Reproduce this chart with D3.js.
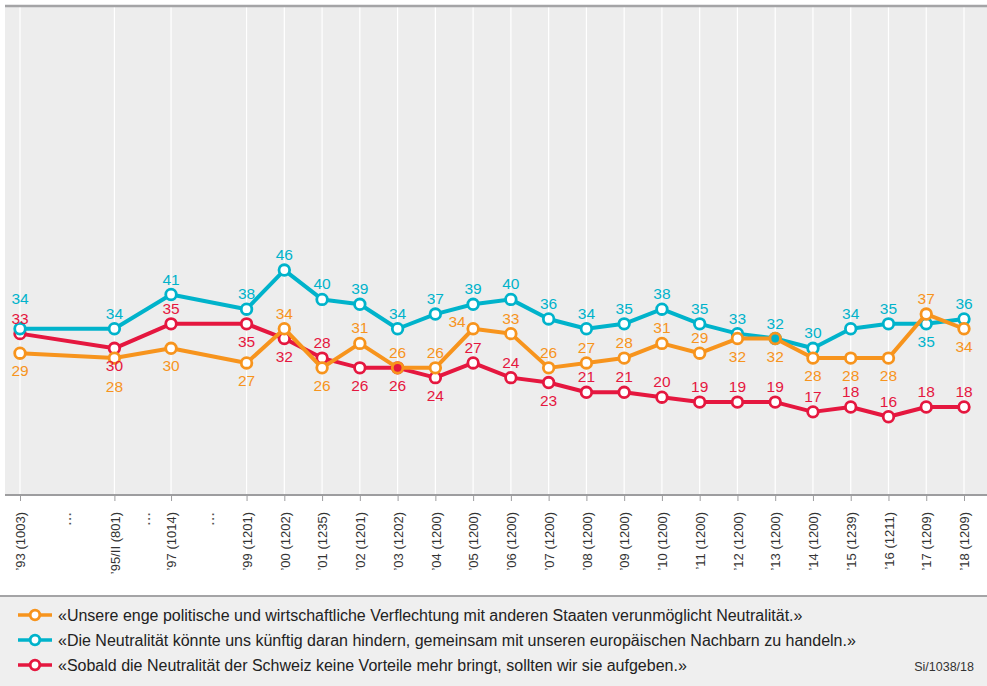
<!DOCTYPE html>
<html>
<head>
<meta charset="utf-8">
<script src="https://cdn.jsdelivr.net/npm/d3@7"></script>
<style>
  body { margin: 0; background: #fff; }
  text { font-family: "Liberation Sans", Arial, Helvetica, sans-serif; }
</style>
</head>
<body>
<svg id="chart"></svg>
<script>
// survey waves (year, second half of 1995 = 1995.5) and sample sizes
const years = [1993, 1995.5, 1997, 1999, 2000, 2001, 2002, 2003, 2004, 2005, 2006, 2007,
  2008, 2009, 2010, 2011, 2012, 2013, 2014, 2015, 2016, 2017, 2018];
const tickLabels = ["’93 (1003)", "’95/II (801)", "’97 (1014)", "’99 (1201)", "’00 (1202)",
  "’01 (1235)", "’02 (1201)", "’03 (1202)", "’04 (1200)", "’05 (1200)", "’06 (1200)",
  "’07 (1200)", "’08 (1200)", "’09 (1200)", "’10 (1200)", "’11 (1200)", "’12 (1200)",
  "’13 (1200)", "’14 (1200)", "’15 (1239)", "’16 (1211)", "’17 (1209)", "’18 (1209)"];
// gaps in the series, marked with dots on the axis
const gapYears = [1994.3, 1996.4, 1998.1];

const verflechtung = [29, 28, 30, 27, 34, 26, 31, 26, 26, 34, 33, 26, 27, 28, 31, 29, 32, 32, 28, 28, 28, 37, 34];
const nachbarn = [34, 34, 41, 38, 46, 40, 39, 34, 37, 39, 40, 36, 34, 35, 38, 35, 33, 32, 30, 34, 35, 35, 36];
const vorteile = [33, 30, 35, 35, 32, 28, 26, 26, 24, 27, 24, 23, 21, 21, 20, 19, 19, 19, 17, 18, 16, 18, 18];

// where each value label sits: a = above, b = below, a2/b2 = further out, l = above left
const verflechtungPos = ["b","b2","b","b","a","b","a","a","a","l","a","a","a","a","a","a","b","b","b","b","b","a","b"];
const nachbarnPos = ["a2","a","a","a","a","a","a","a","a","a","a","a","a","a","a","a","a","a","a","a","a","b","a"];
const vorteilePos = ["a","b","a","b","b","a","b","b","b","a","a","b","a","a","a","a","a","a","a","a","a","a","a"];

const legendTexts = [
  "«Unsere enge politische und wirtschaftliche Verflechtung mit anderen Staaten verunmöglicht Neutralität.»",
  "«Die Neutralität könnte uns künftig daran hindern, gemeinsam mit unseren europäischen Nachbarn zu handeln.»",
  "«Sobald die Neutralität der Schweiz keine Vorteile mehr bringt, sollten wir sie aufgeben.»"
];
const source = "Si/1038/18";

const orange = "#f7941d", cyan = "#00b3cb", red = "#e5173f";

const series = [
  { values: vorteile, pos: vorteilePos, color: red },
  { values: nachbarn, pos: nachbarnPos, color: cyan },
  { values: verflechtung, pos: verflechtungPos, color: orange }
];
const legendOrder = [
  { text: legendTexts[0], color: orange },
  { text: legendTexts[1], color: cyan },
  { text: legendTexts[2], color: red }
];

const W = 987, H = 686;
const plot = { left: 5, right: 987, top: 6, bottom: 495 };

const svg = d3.select("#chart").attr("width", W).attr("height", H);

const x = d3.scaleLinear().domain(d3.extent(years)).range([20, 964]);
const y = d3.scaleLinear().domain([0, 100]).range([plot.bottom, plot.top]);

// plot background
svg.append("rect")
  .attr("x", plot.left).attr("y", plot.top)
  .attr("width", plot.right - plot.left).attr("height", plot.bottom - plot.top)
  .attr("fill", "#ededed");

// vertical grid
svg.append("g")
  .selectAll("line")
  .data(years)
  .join("line")
  .attr("x1", d => x(d)).attr("x2", d => x(d))
  .attr("y1", plot.top).attr("y2", plot.bottom)
  .attr("stroke", "#fff").attr("stroke-width", 1.2);

// top border
svg.append("line")
  .attr("x1", plot.left).attr("x2", plot.right)
  .attr("y1", plot.top).attr("y2", plot.top)
  .attr("stroke", "#a4a4a6").attr("stroke-width", 2.5);

// x axis
const xAxis = svg.append("g")
  .attr("transform", "translate(0," + plot.bottom + ")")
  .call(d3.axisBottom(x).tickValues(years).tickSize(6).tickFormat((d, i) => tickLabels[i]));
xAxis.select(".domain").remove();
xAxis.append("line")
  .attr("x1", plot.left).attr("x2", plot.right)
  .attr("stroke", "#9d9d9f").attr("stroke-width", 2);
xAxis.selectAll(".tick line").attr("stroke", "#9d9d9f").attr("y1", 1);
xAxis.selectAll(".tick text")
  .attr("transform", "rotate(-90)")
  .attr("text-anchor", "end")
  .attr("x", -17).attr("y", 0).attr("dy", "0.36em")
  .attr("fill", "#333")
  .style("font-size", "13px")
  .style("font-family", "'Liberation Sans', Arial, sans-serif");

svg.append("g")
  .selectAll("text")
  .data(gapYears)
  .join("text")
  .attr("transform", d => "translate(" + x(d) + "," + (plot.bottom + 24) + ") rotate(-90)")
  .attr("dy", "0.1em")
  .attr("text-anchor", "middle")
  .attr("fill", "#555")
  .style("font-size", "17px")
  .text("...");

// lines and points
const line = d3.line().x((d, i) => x(years[i])).y(d => y(d));
const offsets = {
  a: [0, -10], a2: [0, -25], b: [0, 23], b2: [0, 34], l: [-16, -2]
};

series.forEach((s, si) => {
  const g = svg.append("g");
  g.append("path")
    .datum(s.values)
    .attr("fill", "none")
    .attr("stroke", s.color)
    .attr("stroke-width", 4)
    .attr("stroke-linejoin", "round")
    .attr("d", line);

  g.selectAll("circle")
    .data(s.values)
    .join("circle")
    .attr("cx", (d, i) => x(years[i]))
    .attr("cy", d => y(d))
    .attr("r", 5.3)
    .attr("stroke", s.color)
    .attr("stroke-width", 2.8)
    .attr("fill", (d, i) => {
      // a point lying exactly on an earlier series shows that series' colour inside
      const under = series.slice(0, si).find(o => o.values[i] === d);
      return under ? under.color : "#fff";
    });
});

// value labels on top
series.forEach(s => {
  svg.append("g")
    .selectAll("text")
    .data(s.values)
    .join("text")
    .attr("x", (d, i) => x(years[i]) + offsets[s.pos[i]][0])
    .attr("y", (d, i) => y(d) + offsets[s.pos[i]][1])
    .attr("text-anchor", "middle")
    .attr("fill", s.color)
    .style("font-size", "15.5px")
    .text(d => d);
});

// legend
const legendTop = 596;
svg.append("rect")
  .attr("x", 0).attr("y", legendTop)
  .attr("width", W).attr("height", H - legendTop)
  .attr("fill", "#efefef");
svg.append("line")
  .attr("x1", 0).attr("x2", W)
  .attr("y1", legendTop).attr("y2", legendTop)
  .attr("stroke", "#a4a4a6").attr("stroke-width", 2);

const legend = svg.append("g")
  .selectAll("g")
  .data(legendOrder)
  .join("g")
  .attr("transform", (d, i) => "translate(0," + (615 + i * 25) + ")");
legend.append("line")
  .attr("x1", 18).attr("x2", 52)
  .attr("stroke", d => d.color).attr("stroke-width", 3.5);
legend.append("circle")
  .attr("cx", 35).attr("r", 4.8)
  .attr("fill", "#fff")
  .attr("stroke", d => d.color).attr("stroke-width", 2.8);
legend.append("text")
  .attr("x", 58).attr("dy", "0.36em")
  .attr("fill", "#222")
  .style("font-size", "16px")
  .text(d => d.text);

svg.append("text")
  .attr("x", 974).attr("y", 671)
  .attr("text-anchor", "end")
  .attr("fill", "#333")
  .style("font-size", "12.5px")
  .text(source);
</script>
</body>
</html>
